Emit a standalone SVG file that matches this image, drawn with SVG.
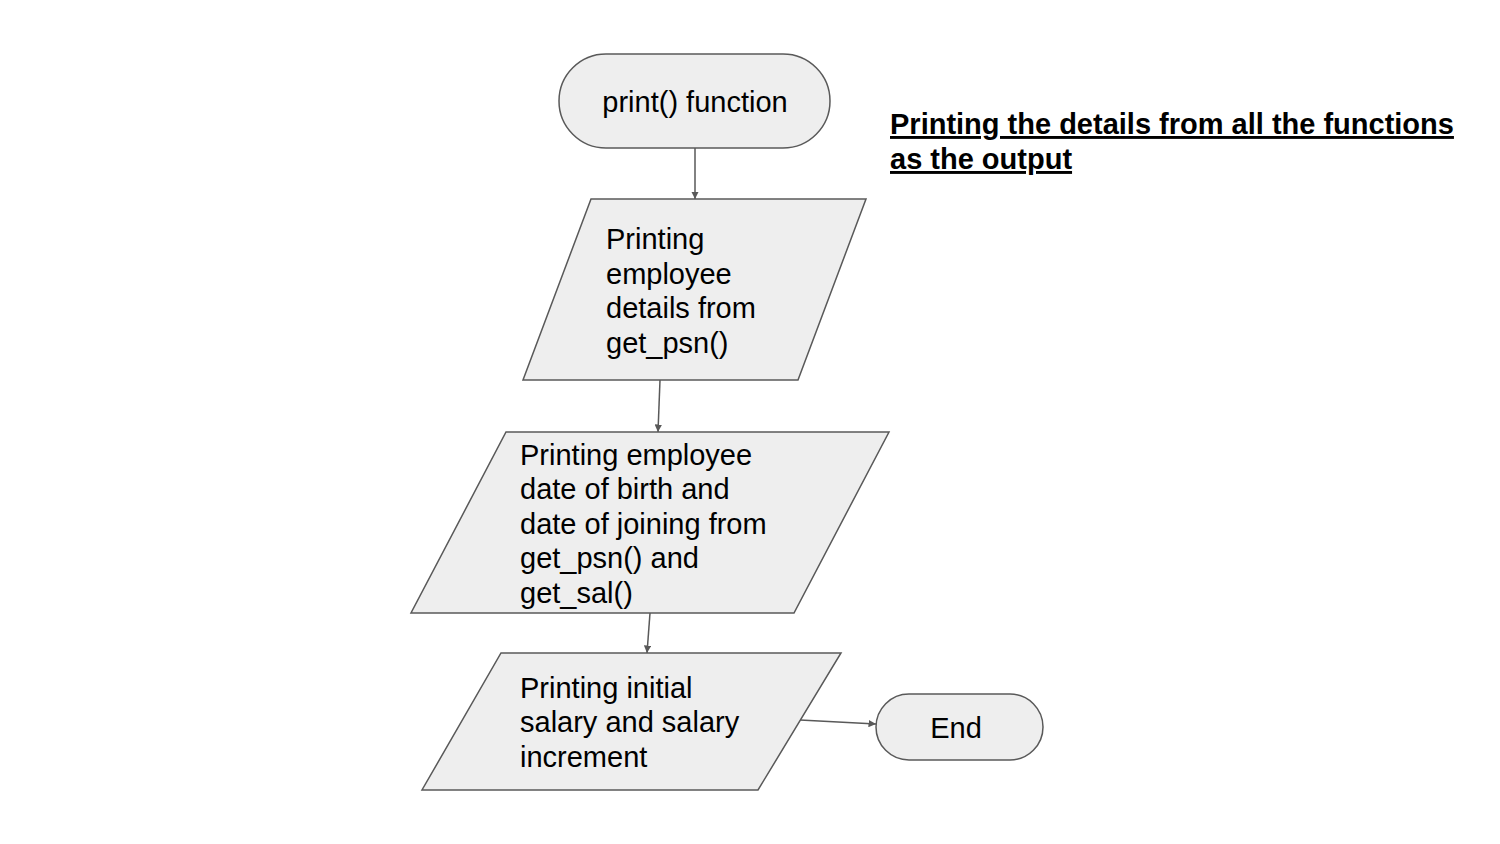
<svg xmlns="http://www.w3.org/2000/svg" width="1500" height="844" viewBox="0 0 1500 844">
<style>
.shape{fill:#eeeeee;stroke:#595959;stroke-width:1.5}
.t{font-family:"Liberation Sans",Arial,sans-serif;font-size:29px;fill:#000}
.title{font-family:"Liberation Sans",Arial,sans-serif;font-size:29px;font-weight:bold;fill:#000;text-decoration:underline}
.conn{stroke:#595959;stroke-width:1.5;fill:none;marker-end:url(#arr)}
</style>
<defs>
<marker id="arr" viewBox="0 0 10 10" refX="10" refY="5" markerWidth="5" markerHeight="5" orient="auto" markerUnits="strokeWidth">
<path d="M0,0 L10,5 L0,10 z" fill="#595959"/>
</marker>
</defs>
<rect width="1500" height="844" fill="#ffffff"/>
<g id="connectors">
<line class="conn" x1="695" y1="148" x2="695" y2="199"/>
<line class="conn" x1="660" y1="380" x2="658" y2="432"/>
<line class="conn" x1="650" y1="613" x2="647" y2="653"/>
<line class="conn" x1="800" y1="720" x2="876" y2="724"/>
</g>
<g id="start">
<rect class="shape" x="559" y="54" width="271" height="94" rx="47" ry="47"/>
<text class="t" x="695" y="112" text-anchor="middle">print() function</text>
</g>
<g id="io1">
<polygon class="shape" points="591,199 866,199 798,380 523,380"/>
<text class="t"><tspan x="606" y="249">Printing</tspan><tspan x="606" y="284">employee</tspan><tspan x="606" y="318">details from</tspan><tspan x="606" y="353">get_psn()</tspan></text>
</g>
<g id="io2">
<polygon class="shape" points="506,432 889,432 794,613 411,613"/>
<text class="t"><tspan x="520" y="465">Printing employee</tspan><tspan x="520" y="499">date of birth and</tspan><tspan x="520" y="534">date of joining from</tspan><tspan x="520" y="568">get_psn() and</tspan><tspan x="520" y="603">get_sal()</tspan></text>
</g>
<g id="io3">
<polygon class="shape" points="501,653 841,653 758,790 422,790"/>
<text class="t"><tspan x="520" y="698">Printing initial</tspan><tspan x="520" y="732">salary and salary</tspan><tspan x="520" y="767">increment</tspan></text>
</g>
<g id="end">
<rect class="shape" x="876" y="694" width="167" height="66" rx="33" ry="33"/>
<text class="t" x="956" y="738" text-anchor="middle">End</text>
</g>
<g id="title">
<text class="title"><tspan x="890" y="134">Printing the details from all the functions</tspan><tspan x="890" y="169">as the output</tspan></text>
</g>
</svg>
